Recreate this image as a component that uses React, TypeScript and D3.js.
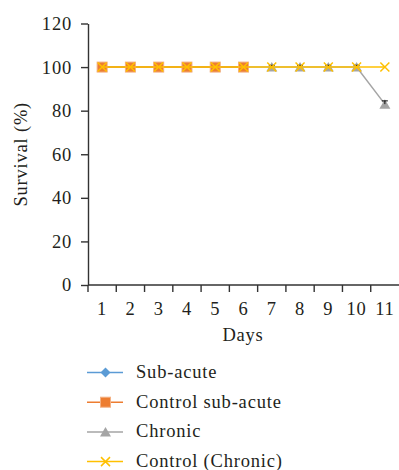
import React, { useRef, useEffect } from 'react';
import * as d3 from 'd3';

const days = ['1', '2', '3', '4', '5', '6', '7', '8', '9', '10', '11'];
const yTicks = [0, 20, 40, 60, 80, 100, 120];

const subAcute = [100, 100, 100, 100, 100, 100];
const controlSubAcute = [100, 100, 100, 100, 100, 100];
const chronic = [100, 100, 100, 100, 100, 100, 100, 100, 100, 100, 83];
const chronicErr = [0, 0, 0, 0, 0, 0, 0.8, 0.8, 0.8, 0.8, 1.5];
const controlChronic = [100, 100, 100, 100, 100, 100, 100, 100, 100, 100, 100];

const seriesNames = ['Sub-acute', 'Control sub-acute', 'Chronic', 'Control (Chronic)'];
const seriesColors = ['#5B9BD5', '#ED7D31', '#A5A5A5', '#FFC000'];
const seriesMarkers = ['diamond', 'square', 'triangle', 'cross'];

const FONT = '"Liberation Serif", "DejaVu Serif", serif';
const FS = 18.5;
const LS = 0.8;

const App = () => {
  const svgRef = useRef<SVGSVGElement>(null);

  useEffect(() => {
    const svg = d3.select(svgRef.current);
    svg.selectAll('*').remove();

    const width = 399;
    const marginLeft = 88;
    const marginRight = 0;
    const top = 23.5;
    const bottom = 285;

    const x = d3.scaleBand().domain(days).range([marginLeft, width - marginRight]);
    const y = d3.scaleLinear().domain([0, 120]).range([bottom, top]);
    const cx = (i: number) => (x(days[i]) as number) + x.bandwidth() / 2;

    const textStyle = (sel: any) => sel
      .attr('font-family', FONT).attr('font-size', FS)
      .attr('letter-spacing', LS).attr('fill', '#231f20');

    // axes
    const yAxis = svg.append('g')
      .attr('transform', `translate(${marginLeft},0)`)
      .call(d3.axisLeft(y).tickValues(yTicks).tickSize(7).tickPadding(9).tickSizeOuter(0));
    yAxis.select('.domain').attr('stroke', '#333').attr('stroke-width', 1.4);
    yAxis.selectAll('line').attr('stroke', '#333').attr('stroke-width', 1.4);
    yAxis.selectAll('text').call(textStyle);

    const xAxis = svg.append('g')
      .attr('transform', `translate(0,${bottom})`);
    xAxis.append('line')
      .attr('x1', marginLeft).attr('x2', width)
      .attr('stroke', '#333').attr('stroke-width', 1.4);
    xAxis.selectAll('.tk')
      .data(days)
      .join('line')
      .attr('x1', d => x(d) as number)
      .attr('x2', d => x(d) as number)
      .attr('y1', 0).attr('y2', 7)
      .attr('stroke', '#333').attr('stroke-width', 1.4);
    xAxis.selectAll('text')
      .data(days)
      .join('text')
      .attr('x', d => (x(d) as number) + x.bandwidth() / 2)
      .attr('y', 30)
      .attr('text-anchor', 'middle')
      .call(textStyle)
      .text(d => d);

    // axis titles
    svg.append('text')
      .attr('x', 243)
      .attr('y', 341)
      .attr('text-anchor', 'middle')
      .call(textStyle)
      .text('Days');
    svg.append('text')
      .attr('transform', `translate(27,${(top + bottom) / 2}) rotate(-90)`)
      .attr('text-anchor', 'middle')
      .call(textStyle)
      .text('Survival (%)');

    const drawMarker = (g: any, type: string, px: number, py: number, color: string) => {
      if (type === 'diamond') {
        g.append('path')
          .attr('d', `M${px},${py - 5}L${px + 5},${py}L${px},${py + 5}L${px - 5},${py}Z`)
          .attr('fill', color);
      } else if (type === 'square') {
        g.append('rect')
          .attr('x', px - 5).attr('y', py - 5)
          .attr('width', 10).attr('height', 10)
          .attr('fill', color).attr('stroke', '#F4B183').attr('stroke-width', 1);
      } else if (type === 'triangle') {
        g.append('path')
          .attr('d', `M${px},${py - 5}L${px + 5.5},${py + 4.5}L${px - 5.5},${py + 4.5}Z`)
          .attr('fill', color);
      } else {
        g.append('path')
          .attr('d', `M${px - 4.5},${py - 4.5}L${px + 4.5},${py + 4.5}M${px + 4.5},${py - 4.5}L${px - 4.5},${py + 4.5}`)
          .attr('stroke', color).attr('stroke-width', 1.5).attr('fill', 'none');
      }
    };

    const line = d3.line<number>().x((_, i) => cx(i)).y(d => y(d));

    const drawSeries = (data: number[], idx: number) => {
      const g = svg.append('g');
      g.append('path')
        .datum(data)
        .attr('d', line)
        .attr('fill', 'none')
        .attr('stroke', seriesColors[idx])
        .attr('stroke-width', 1.5);
      data.forEach((v, i) => drawMarker(g, seriesMarkers[idx], cx(i), y(v), seriesColors[idx]));
      return g;
    };

    // chronic first (it sits under the sub-acute markers), error bars on it
    const gChronic = drawSeries(chronic, 2);
    chronic.forEach((v, i) => {
      if (!chronicErr[i]) return;
      const px = cx(i);
      gChronic.append('line')
        .attr('x1', px).attr('x2', px)
        .attr('y1', y(v + chronicErr[i])).attr('y2', y(v))
        .attr('stroke', '#111').attr('stroke-width', 1);
      gChronic.append('line')
        .attr('x1', px - 3).attr('x2', px + 3)
        .attr('y1', y(v + chronicErr[i])).attr('y2', y(v + chronicErr[i]))
        .attr('stroke', '#111').attr('stroke-width', 1);
    });
    drawSeries(subAcute, 0);
    drawSeries(controlSubAcute, 1);
    drawSeries(controlChronic, 3);

    // legend
    const legend = svg.append('g');
    seriesNames.forEach((name, i) => {
      const ly = 372.5 + i * 29.7;
      legend.append('line')
        .attr('x1', 87).attr('x2', 123)
        .attr('y1', ly).attr('y2', ly)
        .attr('stroke', seriesColors[i]).attr('stroke-width', 1.5);
      drawMarker(legend, seriesMarkers[i], 105.5, ly, seriesColors[i]);
      legend.append('text')
        .attr('x', 136).attr('y', ly + 5.5)
        .call(textStyle)
        .text(name);
    });
  }, []);

  return (
    <svg ref={svgRef} width={399} height={470} style={{ position: 'absolute', left: 0, top: 0, background: '#fff' }} />
  );
};

export default App;
